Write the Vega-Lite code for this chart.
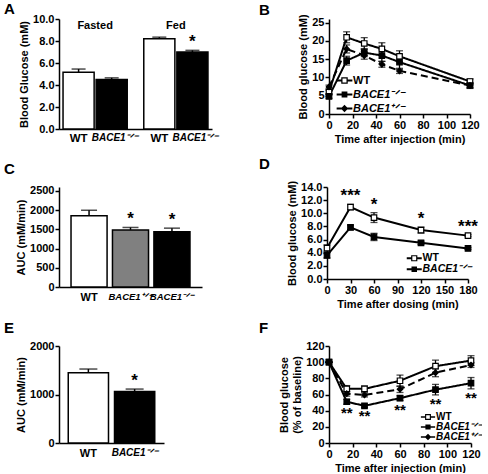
{
  "$schema": "https://vega.github.io/schema/vega-lite/v6.json",
  "background": "white",
  "padding": {"left": 4, "top": 2, "right": 0, "bottom": 0},
  "config": {
    "font": "Liberation Sans",
    "view": {"stroke": null},
    "axis": {"labelFont": "Liberation Sans", "labelFontSize": 11, "labelFontWeight": "bold", "labelColor": "black", "titleFont": "Liberation Sans", "titleFontSize": 11, "titleFontWeight": "bold", "titleColor": "black", "domainColor": "black", "domainWidth": 1.5, "tickColor": "black", "tickWidth": 1.5, "tickSize": 4, "grid": false, "labelPadding": 1, "titlePadding": 3, "labelFlush": false, "labelOverlap": false},
    "legend": {"labelFont": "Liberation Sans", "labelFontSize": 11, "labelFontWeight": "bold", "labelColor": "black", "rowPadding": 1, "padding": 0, "labelOffset": 3},
    "title": {"font": "Liberation Sans", "fontSize": 15, "fontWeight": "bold", "anchor": "start", "frame": "group", "color": "black", "offset": 2}
  },
  "resolve": {"scale": {"fill": "independent", "shape": "independent", "strokeDash": "independent"}, "legend": {"fill": "independent", "shape": "independent", "strokeDash": "independent"}},
  "concat": [
    {
      "resolve": {"scale": {"fill": "independent", "shape": "independent", "strokeDash": "independent"}, "legend": {"fill": "independent", "shape": "independent", "strokeDash": "independent"}},
      "hconcat": [
        {
          "width": 153, "height": 110,
          "title": {"text": "A", "dx": -55, "offset": -4},
          "data": {"values": [
            {"cond": "Fasted", "geno": "WT", "label": "WT", "mean": 5.15, "hi": 5.45, "sig": ""},
            {"cond": "Fasted", "geno": "BACE1", "label": "BACE1⁻ᐟ⁻", "mean": 4.5, "hi": 4.65, "sig": ""},
            {"cond": "Fed", "geno": "WT", "label": "WT", "mean": 8.2, "hi": 8.35, "sig": ""},
            {"cond": "Fed", "geno": "BACE1", "label": "BACE1⁻ᐟ⁻", "mean": 7.0, "hi": 7.15, "sig": "*"}
          ]},
          "layer": [
            {
              "mark": {"type": "bar", "stroke": "black", "strokeWidth": 1.5},
              "encoding": {
                "x": {"field": "cond", "type": "nominal", "sort": ["Fasted", "Fed"], "scale": {"paddingInner": 0.205, "paddingOuter": 0.05}, "axis": {"title": null, "labels": false, "ticks": false}},
                "xOffset": {"field": "geno", "type": "nominal", "sort": ["WT", "BACE1"], "scale": {"domain": ["WT", "BACE1"], "paddingInner": 0.06, "paddingOuter": 0}},
                "y": {"field": "mean", "type": "quantitative", "scale": {"domain": [0, 10]}, "axis": {"values": [0, 2, 4, 6, 8, 10], "tickCount": 20, "labelOverlap": false, "title": "Blood Glucose (mM)"}},
                "fill": {"field": "geno", "type": "nominal", "scale": {"domain": ["WT", "BACE1"], "range": ["white", "black"]}, "legend": null}
              }
            },
            {
              "mark": {"type": "rule", "color": "black", "strokeWidth": 1.5},
              "encoding": {
                "x": {"field": "cond", "type": "nominal", "sort": ["Fasted", "Fed"]},
                "xOffset": {"field": "geno", "type": "nominal", "sort": ["WT", "BACE1"]},
                "y": {"field": "mean", "type": "quantitative"},
                "y2": {"field": "hi"}
              }
            },
            {
              "mark": {"type": "tick", "color": "black", "thickness": 1.5, "size": 14, "orient": "horizontal"},
              "encoding": {
                "x": {"field": "cond", "type": "nominal", "sort": ["Fasted", "Fed"]},
                "xOffset": {"field": "geno", "type": "nominal", "sort": ["WT", "BACE1"]},
                "y": {"field": "hi", "type": "quantitative"}
              }
            },
            {
              "transform": [{"filter": "datum.geno == 'WT'"}],
              "mark": {"type": "text", "baseline": "top", "dy": 4, "fontSize": 11.5, "fontWeight": "bold", "color": "black"},
              "encoding": {
                "x": {"field": "cond", "type": "nominal", "sort": ["Fasted", "Fed"]},
                "xOffset": {"field": "geno", "type": "nominal", "sort": ["WT", "BACE1"]},
                "y": {"datum": 0},
                "text": {"field": "label"}
              }
            },
            {
              "transform": [{"filter": "datum.geno != 'WT'"}],
              "mark": {"type": "text", "baseline": "top", "dy": 4, "dx": 3, "fontSize": 10, "fontWeight": "bold", "fontStyle": "italic", "color": "black"},
              "encoding": {
                "x": {"field": "cond", "type": "nominal", "sort": ["Fasted", "Fed"]},
                "xOffset": {"field": "geno", "type": "nominal", "sort": ["WT", "BACE1"]},
                "y": {"datum": 0},
                "text": {"field": "label"}
              }
            },
            {
              "transform": [{"filter": "datum.sig != ''"}],
              "mark": {"type": "text", "baseline": "alphabetic", "dy": -3, "fontSize": 17, "fontWeight": "bold", "color": "black"},
              "encoding": {
                "x": {"field": "cond", "type": "nominal", "sort": ["Fasted", "Fed"]},
                "xOffset": {"field": "geno", "type": "nominal", "sort": ["WT", "BACE1"]},
                "y": {"field": "hi", "type": "quantitative"},
                "text": {"field": "sig"}
              }
            },
            {
              "data": {"values": [{"cond": "Fasted"}, {"cond": "Fed"}]},
              "mark": {"type": "text", "baseline": "top", "dy": 1, "fontSize": 11, "fontWeight": "bold", "color": "black"},
              "encoding": {
                "x": {"field": "cond", "type": "nominal", "sort": ["Fasted", "Fed"]},
                "y": {"datum": 10},
                "text": {"field": "cond"}
              }
            }
          ]
        },
        {
          "width": 141, "height": 95,
          "title": {"text": "B", "dx": -70, "offset": -4},
          "data": {"values": [
            {"g": "WT", "t": 0, "mean": 6.0, "lo": 5.5, "hi": 6.5},
            {"g": "WT", "t": 15, "mean": 21.0, "lo": 19.5, "hi": 22.5},
            {"g": "WT", "t": 30, "mean": 19.3, "lo": 17.7, "hi": 20.9},
            {"g": "WT", "t": 45, "mean": 17.8, "lo": 16.1, "hi": 19.5},
            {"g": "WT", "t": 60, "mean": 15.8, "lo": 14.3, "hi": 17.3},
            {"g": "WT", "t": 120, "mean": 8.9, "lo": 8.2, "hi": 9.6},
            {"g": "BACE1⁻ᐟ⁻", "t": 0, "mean": 4.8, "lo": 4.3, "hi": 5.3},
            {"g": "BACE1⁻ᐟ⁻", "t": 15, "mean": 14.6, "lo": 13.4, "hi": 15.8},
            {"g": "BACE1⁻ᐟ⁻", "t": 30, "mean": 16.8, "lo": 15.7, "hi": 17.9},
            {"g": "BACE1⁻ᐟ⁻", "t": 45, "mean": 16.0, "lo": 14.4, "hi": 17.6},
            {"g": "BACE1⁻ᐟ⁻", "t": 60, "mean": 14.2, "lo": 12.2, "hi": 16.2},
            {"g": "BACE1⁻ᐟ⁻", "t": 120, "mean": 7.8, "lo": 7.0, "hi": 8.6},
            {"g": "BACE1⁺ᐟ⁻", "t": 0, "mean": 7.4, "lo": 6.9, "hi": 7.9},
            {"g": "BACE1⁺ᐟ⁻", "t": 15, "mean": 17.8, "lo": 16.7, "hi": 18.9},
            {"g": "BACE1⁺ᐟ⁻", "t": 30, "mean": 16.0, "lo": 15.0, "hi": 17.0},
            {"g": "BACE1⁺ᐟ⁻", "t": 45, "mean": 13.6, "lo": 12.8, "hi": 14.4},
            {"g": "BACE1⁺ᐟ⁻", "t": 60, "mean": 11.8, "lo": 11.1, "hi": 12.5},
            {"g": "BACE1⁺ᐟ⁻", "t": 120, "mean": 7.8, "lo": 7.3, "hi": 8.3}
          ]},
          "resolve": {"scale": {"shape": "independent"}},
          "layer": [
            {
              "mark": {"type": "rule", "color": "black", "strokeWidth": 1.3},
              "encoding": {
                "x": {"field": "t", "type": "quantitative", "scale": {"domain": [0, 120]}, "axis": {"values": [0, 20, 40, 60, 80, 100, 120], "tickCount": 20, "labelOverlap": false, "title": "Time after injection (min)"}},
                "y": {"field": "lo", "type": "quantitative", "scale": {"domain": [0, 25]}, "axis": {"values": [0, 5, 10, 15, 20, 25], "tickCount": 20, "labelOverlap": false, "title": "Blood glucose (mM)"}},
                "y2": {"field": "hi"}
              }
            },
            {
              "mark": {"type": "tick", "color": "black", "thickness": 1.3, "size": 7, "orient": "horizontal"},
              "encoding": {"x": {"field": "t", "type": "quantitative"}, "y": {"field": "hi", "type": "quantitative"}}
            },
            {
              "mark": {"type": "tick", "color": "black", "thickness": 1.3, "size": 7, "orient": "horizontal"},
              "encoding": {"x": {"field": "t", "type": "quantitative"}, "y": {"field": "lo", "type": "quantitative"}}
            },
            {
              "mark": {"type": "line", "color": "black", "strokeWidth": 2},
              "encoding": {
                "x": {"field": "t", "type": "quantitative"},
                "y": {"field": "mean", "type": "quantitative"},
                "detail": {"field": "g"},
                "strokeDash": {"field": "g", "type": "nominal", "scale": {"domain": ["WT", "BACE1⁻ᐟ⁻", "BACE1⁺ᐟ⁻"], "range": [[1, 0], [1, 0], [7, 4]]}, "legend": null}
              }
            },
            {
              "mark": {"type": "point", "filled": true, "size": 30, "opacity": 1, "stroke": "black", "strokeWidth": 1.2},
              "encoding": {
                "x": {"field": "t", "type": "quantitative"},
                "y": {"field": "mean", "type": "quantitative"},
                "shape": {"field": "g", "type": "nominal", "scale": {"domain": ["WT", "BACE1⁻ᐟ⁻", "BACE1⁺ᐟ⁻"], "range": ["square", "square", "diamond"]}, "legend": null},
                "fill": {"field": "g", "type": "nominal", "scale": {"domain": ["WT", "BACE1⁻ᐟ⁻", "BACE1⁺ᐟ⁻"], "range": ["white", "black", "black"]}, "legend": null}
              }
            },
            {
              "mark": {"type": "point", "filled": true, "opacity": 0, "color": "black"},
              "encoding": {
                "x": {"field": "t", "type": "quantitative"},
                "y": {"field": "mean", "type": "quantitative"},
                "shape": {"field": "g", "type": "nominal", "scale": {"domain": ["WT", "BACE1⁻ᐟ⁻", "BACE1⁺ᐟ⁻"], "range": ["M-1.5,-0.18H-0.62V0.18H-1.5Z M0.62,-0.18H1.5V0.18H0.62Z M-0.62,-0.62H0.62V0.62H-0.62Z M-0.38,-0.38V0.38H0.38V-0.38Z", "M-1.5,-0.18H1.5V0.18H-1.5Z M-0.55,-0.55H0.55V0.55H-0.55Z", "M-1.5,-0.18H1.5V0.18H-1.5Z M0,-0.7L0.7,0L0,0.7L-0.7,0Z"]},
                  "legend": {"title": null, "orient": "none", "legendX": 10, "legendY": 56, "symbolSize": 110, "symbolOpacity": 1, "symbolFillColor": "black", "symbolStrokeWidth": 0, "labelFontStyle": {"expr": "datum.label == 'WT' ? 'normal' : 'italic'"}, "rowPadding": 2}}
              }
            }
          ]
        }
      ],
      "spacing": 117,
      "bounds": "flush"
    },
    {
      "resolve": {"scale": {"fill": "independent", "shape": "independent", "strokeDash": "independent"}, "legend": {"fill": "independent", "shape": "independent", "strokeDash": "independent"}},
      "hconcat": [
        {
          "width": 143, "height": 100,
          "title": {"text": "C", "dx": -55, "offset": 8},
          "data": {"values": [
            {"g": "WT", "mean": 1850, "hi": 1995, "sig": ""},
            {"g": "BACE1⁺ᐟ⁻", "mean": 1485, "hi": 1548, "sig": "*"},
            {"g": "BACE1⁻ᐟ⁻", "mean": 1435, "hi": 1530, "sig": "*"}
          ]},
          "layer": [
            {
              "mark": {"type": "bar", "stroke": "black", "strokeWidth": 1.5},
              "encoding": {
                "x": {"field": "g", "type": "nominal", "sort": ["WT", "BACE1⁺ᐟ⁻", "BACE1⁻ᐟ⁻"], "scale": {"paddingInner": 0.13, "paddingOuter": 0.29}, "axis": {"title": null, "ticks": false, "labelAngle": 0, "labelPadding": 4, "labelFontSize": {"condition": {"test": "datum.value == 'WT'", "value": 11}, "value": 9.5}, "labelOverlap": false, "labelFontStyle": {"condition": {"test": "datum.value == 'WT'", "value": "normal"}, "value": "italic"}}},
                "y": {"field": "mean", "type": "quantitative", "scale": {"domain": [0, 2500]}, "axis": {"values": [0, 500, 1000, 1500, 2000, 2500], "tickCount": 20, "format": "d", "labelOverlap": false, "title": "AUC (mM/min)"}},
                "fill": {"field": "g", "type": "nominal", "scale": {"domain": ["WT", "BACE1⁺ᐟ⁻", "BACE1⁻ᐟ⁻"], "range": ["white", "#808080", "black"]}, "legend": null}
              }
            },
            {
              "mark": {"type": "rule", "color": "black", "strokeWidth": 1.5},
              "encoding": {"x": {"field": "g", "type": "nominal", "sort": ["WT", "BACE1⁺ᐟ⁻", "BACE1⁻ᐟ⁻"]}, "y": {"field": "mean", "type": "quantitative"}, "y2": {"field": "hi"}}
            },
            {
              "mark": {"type": "tick", "color": "black", "thickness": 1.5, "size": 16, "orient": "horizontal"},
              "encoding": {"x": {"field": "g", "type": "nominal", "sort": ["WT", "BACE1⁺ᐟ⁻", "BACE1⁻ᐟ⁻"]}, "y": {"field": "hi", "type": "quantitative"}}
            },
            {
              "transform": [{"filter": "datum.sig != ''"}],
              "mark": {"type": "text", "baseline": "alphabetic", "dy": -3, "fontSize": 17, "fontWeight": "bold", "color": "black"},
              "encoding": {"x": {"field": "g", "type": "nominal", "sort": ["WT", "BACE1⁺ᐟ⁻", "BACE1⁻ᐟ⁻"]}, "y": {"field": "hi", "type": "quantitative"}, "text": {"field": "sig"}}
            }
          ]
        },
        {
          "width": 141, "height": 92,
          "title": {"text": "D", "dx": -68, "offset": 8},
          "data": {"values": [
            {"g": "WT", "t": 0, "mean": 4.7, "lo": 4.2, "hi": 5.2, "sig": ""},
            {"g": "WT", "t": 30, "mean": 10.95, "lo": 10.55, "hi": 11.35, "sig": "***"},
            {"g": "WT", "t": 60, "mean": 9.35, "lo": 8.6, "hi": 10.1, "sig": "*"},
            {"g": "WT", "t": 120, "mean": 7.45, "lo": 7.0, "hi": 7.9, "sig": "*"},
            {"g": "WT", "t": 180, "mean": 6.6, "lo": 6.45, "hi": 6.75, "sig": "***"},
            {"g": "BACE1⁻ᐟ⁻", "t": 0, "mean": 3.6, "lo": 3.2, "hi": 4.0, "sig": ""},
            {"g": "BACE1⁻ᐟ⁻", "t": 30, "mean": 7.85, "lo": 7.5, "hi": 8.2, "sig": ""},
            {"g": "BACE1⁻ᐟ⁻", "t": 60, "mean": 6.4, "lo": 5.85, "hi": 6.95, "sig": ""},
            {"g": "BACE1⁻ᐟ⁻", "t": 120, "mean": 5.5, "lo": 5.25, "hi": 5.75, "sig": ""},
            {"g": "BACE1⁻ᐟ⁻", "t": 180, "mean": 4.65, "lo": 4.5, "hi": 4.8, "sig": ""}
          ]},
          "resolve": {"scale": {"shape": "independent"}},
          "layer": [
            {
              "mark": {"type": "rule", "color": "black", "strokeWidth": 1.3},
              "encoding": {
                "x": {"field": "t", "type": "quantitative", "scale": {"domain": [0, 180]}, "axis": {"values": [0, 30, 60, 90, 120, 150, 180], "tickCount": 20, "labelOverlap": false, "title": "Time after dosing (min)"}},
                "y": {"field": "lo", "type": "quantitative", "scale": {"domain": [0, 14]}, "axis": {"values": [0, 2, 4, 6, 8, 10, 12, 14], "tickCount": 20, "labelOverlap": false, "title": "Blood glucose (mM)"}},
                "y2": {"field": "hi"}
              }
            },
            {
              "mark": {"type": "tick", "color": "black", "thickness": 1.3, "size": 7, "orient": "horizontal"},
              "encoding": {"x": {"field": "t", "type": "quantitative"}, "y": {"field": "hi", "type": "quantitative"}}
            },
            {
              "mark": {"type": "tick", "color": "black", "thickness": 1.3, "size": 7, "orient": "horizontal"},
              "encoding": {"x": {"field": "t", "type": "quantitative"}, "y": {"field": "lo", "type": "quantitative"}}
            },
            {
              "mark": {"type": "line", "color": "black", "strokeWidth": 2},
              "encoding": {"x": {"field": "t", "type": "quantitative"}, "y": {"field": "mean", "type": "quantitative"}, "detail": {"field": "g"}}
            },
            {
              "mark": {"type": "point", "filled": true, "size": 30, "opacity": 1, "stroke": "black", "strokeWidth": 1.2, "shape": "square"},
              "encoding": {
                "x": {"field": "t", "type": "quantitative"},
                "y": {"field": "mean", "type": "quantitative"},
                "fill": {"field": "g", "type": "nominal", "scale": {"domain": ["WT", "BACE1⁻ᐟ⁻"], "range": ["white", "black"]}, "legend": null}
              }
            },
            {
              "transform": [{"filter": "datum.sig != ''"}],
              "mark": {"type": "text", "baseline": "alphabetic", "dy": -3, "fontSize": 17, "fontWeight": "bold", "color": "black"},
              "encoding": {"x": {"field": "t", "type": "quantitative"}, "y": {"field": "hi", "type": "quantitative"}, "text": {"field": "sig"}}
            },
            {
              "mark": {"type": "point", "filled": true, "opacity": 0, "color": "black"},
              "encoding": {
                "x": {"field": "t", "type": "quantitative"},
                "y": {"field": "mean", "type": "quantitative"},
                "shape": {"field": "g", "type": "nominal", "scale": {"domain": ["WT", "BACE1⁻ᐟ⁻"], "range": ["M-1.5,-0.18H-0.62V0.18H-1.5Z M0.62,-0.18H1.5V0.18H0.62Z M-0.62,-0.62H0.62V0.62H-0.62Z M-0.38,-0.38V0.38H0.38V-0.38Z", "M-1.5,-0.18H1.5V0.18H-1.5Z M-0.55,-0.55H0.55V0.55H-0.55Z"]},
                  "legend": {"title": null, "orient": "none", "legendX": 82, "legendY": 66, "symbolSize": 100, "symbolOpacity": 1, "symbolFillColor": "black", "symbolStrokeWidth": 0, "labelFontSize": 10.5, "labelFontStyle": {"expr": "datum.label == 'WT' ? 'normal' : 'italic'"}, "rowPadding": -1}}
              }
            }
          ]
        }
      ],
      "spacing": 125,
      "bounds": "flush"
    },
    {
      "resolve": {"scale": {"fill": "independent", "shape": "independent", "strokeDash": "independent"}, "legend": {"fill": "independent", "shape": "independent", "strokeDash": "independent"}},
      "hconcat": [
        {
          "width": 105, "height": 97,
          "title": {"text": "E", "dx": -55, "offset": 4},
          "data": {"values": [
            {"g": "WT", "mean": 1450, "hi": 1525, "sig": ""},
            {"g": "BACE1⁻ᐟ⁻", "mean": 1060, "hi": 1112, "sig": "*"}
          ]},
          "layer": [
            {
              "mark": {"type": "bar", "stroke": "black", "strokeWidth": 1.5},
              "encoding": {
                "x": {"field": "g", "type": "nominal", "sort": ["WT", "BACE1⁻ᐟ⁻"], "scale": {"paddingInner": 0.13, "paddingOuter": 0.2}, "axis": {"title": null, "ticks": false, "labelAngle": 0, "labelPadding": 4, "labelFontSize": {"condition": {"test": "datum.value == 'WT'", "value": 11}, "value": 10}, "labelOverlap": false, "labelFontStyle": {"condition": {"test": "datum.value == 'WT'", "value": "normal"}, "value": "italic"}}},
                "y": {"field": "mean", "type": "quantitative", "scale": {"domain": [0, 2000]}, "axis": {"values": [0, 1000, 2000], "tickCount": 20, "format": "d", "labelOverlap": false, "title": "AUC (mM/min)"}},
                "fill": {"field": "g", "type": "nominal", "scale": {"domain": ["WT", "BACE1⁻ᐟ⁻"], "range": ["white", "black"]}, "legend": null}
              }
            },
            {
              "mark": {"type": "rule", "color": "black", "strokeWidth": 1.5},
              "encoding": {"x": {"field": "g", "type": "nominal", "sort": ["WT", "BACE1⁻ᐟ⁻"]}, "y": {"field": "mean", "type": "quantitative"}, "y2": {"field": "hi"}}
            },
            {
              "mark": {"type": "tick", "color": "black", "thickness": 1.5, "size": 18, "orient": "horizontal"},
              "encoding": {"x": {"field": "g", "type": "nominal", "sort": ["WT", "BACE1⁻ᐟ⁻"]}, "y": {"field": "hi", "type": "quantitative"}}
            },
            {
              "transform": [{"filter": "datum.sig != ''"}],
              "mark": {"type": "text", "baseline": "alphabetic", "dy": -3, "fontSize": 17, "fontWeight": "bold", "color": "black"},
              "encoding": {"x": {"field": "g", "type": "nominal", "sort": ["WT", "BACE1⁻ᐟ⁻"]}, "y": {"field": "hi", "type": "quantitative"}, "text": {"field": "sig"}}
            }
          ]
        },
        {
          "width": 142, "height": 97,
          "title": {"text": "F", "dx": -70, "offset": 4},
          "data": {"values": [
            {"g": "WT", "t": 0, "mean": 100, "lo": 100, "hi": 100, "sig": ""},
            {"g": "WT", "t": 15, "mean": 67, "lo": 63, "hi": 71, "sig": ""},
            {"g": "WT", "t": 30, "mean": 67, "lo": 63.5, "hi": 70.5, "sig": ""},
            {"g": "WT", "t": 60, "mean": 77, "lo": 70, "hi": 84, "sig": ""},
            {"g": "WT", "t": 90, "mean": 95, "lo": 87.5, "hi": 102.5, "sig": ""},
            {"g": "WT", "t": 120, "mean": 102, "lo": 96, "hi": 108, "sig": ""},
            {"g": "BACE1⁻ᐟ⁻", "t": 0, "mean": 100, "lo": 100, "hi": 100, "sig": ""},
            {"g": "BACE1⁻ᐟ⁻", "t": 15, "mean": 51, "lo": 48, "hi": 54, "sig": "**"},
            {"g": "BACE1⁻ᐟ⁻", "t": 30, "mean": 46, "lo": 44, "hi": 48, "sig": "**"},
            {"g": "BACE1⁻ᐟ⁻", "t": 60, "mean": 55.5, "lo": 52.5, "hi": 58.5, "sig": "**"},
            {"g": "BACE1⁻ᐟ⁻", "t": 90, "mean": 66, "lo": 59.5, "hi": 72.5, "sig": "**"},
            {"g": "BACE1⁻ᐟ⁻", "t": 120, "mean": 74, "lo": 67, "hi": 81, "sig": "**"},
            {"g": "BACE1⁺ᐟ⁻", "t": 0, "mean": 100, "lo": 100, "hi": 100, "sig": ""},
            {"g": "BACE1⁺ᐟ⁻", "t": 15, "mean": 61, "lo": 58, "hi": 64, "sig": ""},
            {"g": "BACE1⁺ᐟ⁻", "t": 30, "mean": 59.5, "lo": 57, "hi": 62, "sig": ""},
            {"g": "BACE1⁺ᐟ⁻", "t": 60, "mean": 66.5, "lo": 62.5, "hi": 70.5, "sig": ""},
            {"g": "BACE1⁺ᐟ⁻", "t": 90, "mean": 87, "lo": 82, "hi": 92, "sig": ""},
            {"g": "BACE1⁺ᐟ⁻", "t": 120, "mean": 96.5, "lo": 93.5, "hi": 99.5, "sig": ""}
          ]},
          "resolve": {"scale": {"shape": "independent"}},
          "layer": [
            {
              "mark": {"type": "rule", "color": "black", "strokeWidth": 1.3},
              "encoding": {
                "x": {"field": "t", "type": "quantitative", "scale": {"domain": [0, 120]}, "axis": {"values": [0, 20, 40, 60, 80, 100, 120], "tickCount": 20, "labelOverlap": false, "title": "Time after injection (min)"}},
                "y": {"field": "lo", "type": "quantitative", "scale": {"domain": [0, 120]}, "axis": {"values": [0, 20, 40, 60, 80, 100, 120], "tickCount": 20, "labelOverlap": false, "title": ["Blood glucose", "(% of baseline)"]}},
                "y2": {"field": "hi"}
              }
            },
            {
              "mark": {"type": "tick", "color": "black", "thickness": 1.3, "size": 7, "orient": "horizontal"},
              "encoding": {"x": {"field": "t", "type": "quantitative"}, "y": {"field": "hi", "type": "quantitative"}}
            },
            {
              "mark": {"type": "tick", "color": "black", "thickness": 1.3, "size": 7, "orient": "horizontal"},
              "encoding": {"x": {"field": "t", "type": "quantitative"}, "y": {"field": "lo", "type": "quantitative"}}
            },
            {
              "mark": {"type": "line", "color": "black", "strokeWidth": 2},
              "encoding": {
                "x": {"field": "t", "type": "quantitative"},
                "y": {"field": "mean", "type": "quantitative"},
                "detail": {"field": "g"},
                "strokeDash": {"field": "g", "type": "nominal", "scale": {"domain": ["WT", "BACE1⁻ᐟ⁻", "BACE1⁺ᐟ⁻"], "range": [[1, 0], [1, 0], [7, 4]]}, "legend": null}
              }
            },
            {
              "mark": {"type": "point", "filled": true, "size": 30, "opacity": 1, "stroke": "black", "strokeWidth": 1.2},
              "encoding": {
                "x": {"field": "t", "type": "quantitative"},
                "y": {"field": "mean", "type": "quantitative"},
                "shape": {"field": "g", "type": "nominal", "scale": {"domain": ["WT", "BACE1⁻ᐟ⁻", "BACE1⁺ᐟ⁻"], "range": ["square", "square", "diamond"]}, "legend": null},
                "fill": {"field": "g", "type": "nominal", "scale": {"domain": ["WT", "BACE1⁻ᐟ⁻", "BACE1⁺ᐟ⁻"], "range": ["white", "black", "black"]}, "legend": null}
              }
            },
            {
              "transform": [{"filter": "datum.sig != ''"}],
              "mark": {"type": "text", "baseline": "top", "dy": 2, "fontSize": 15, "fontWeight": "bold", "color": "black"},
              "encoding": {"x": {"field": "t", "type": "quantitative"}, "y": {"field": "lo", "type": "quantitative"}, "text": {"field": "sig"}}
            },
            {
              "mark": {"type": "point", "filled": true, "opacity": 0, "color": "black"},
              "encoding": {
                "x": {"field": "t", "type": "quantitative"},
                "y": {"field": "mean", "type": "quantitative"},
                "shape": {"field": "g", "type": "nominal", "scale": {"domain": ["WT", "BACE1⁻ᐟ⁻", "BACE1⁺ᐟ⁻"], "range": ["M-1.5,-0.18H-0.62V0.18H-1.5Z M0.62,-0.18H1.5V0.18H0.62Z M-0.62,-0.62H0.62V0.62H-0.62Z M-0.38,-0.38V0.38H0.38V-0.38Z", "M-1.5,-0.18H1.5V0.18H-1.5Z M-0.55,-0.55H0.55V0.55H-0.55Z", "M-1.5,-0.18H1.5V0.18H-1.5Z M0,-0.7L0.7,0L0,0.7L-0.7,0Z"]},
                  "legend": {"title": null, "orient": "none", "legendX": 94, "legendY": 66, "symbolSize": 90, "symbolOpacity": 1, "symbolFillColor": "black", "symbolStrokeWidth": 0, "labelFontSize": 10, "labelFontStyle": {"expr": "datum.label == 'WT' ? 'normal' : 'italic'"}, "rowPadding": -2}}
              }
            }
          ]
        }
      ],
      "spacing": 165,
      "bounds": "flush"
    }
  ],
  "columns": 1,
  "align": "none",
  "bounds": "full",
  "spacing": 12
}
